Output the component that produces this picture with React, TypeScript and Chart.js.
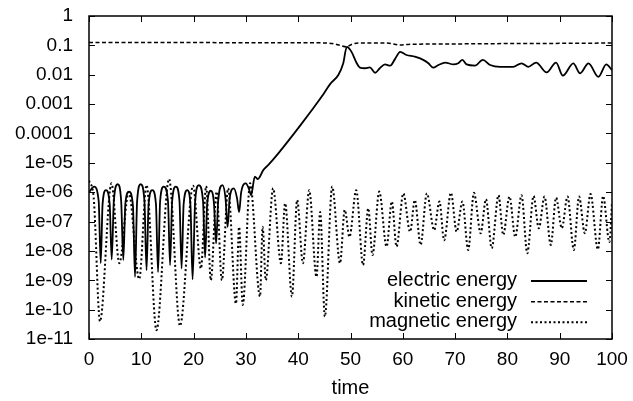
import React, { useEffect, useRef } from 'react';
import Chart from 'chart.js/auto';

const FONT = "'Liberation Sans', Arial, Helvetica, sans-serif";

// electric energy (solid)
const electricTime = [
  0.0, 0.96, 1.85, 2.24, 2.6, 3.25, 3.95, 4.34, 4.75, 5.49, 6.15, 6.56, 6.95, 7.65, 8.4, 8.8,
  9.2, 9.89, 10.6, 11.0, 11.4, 12.1, 12.8, 13.2, 13.6, 14.3, 15.1, 15.5, 15.9, 16.6, 17.3, 17.7,
  18.1, 18.8, 19.4, 19.8, 20.3, 21.0, 21.8, 22.2, 22.6, 23.3, 23.9, 24.3, 24.7, 25.5, 26.1, 26.5,
  26.9, 27.7, 28.3, 28.7, 29.1, 30.0, 30.6, 31.0, 31.7, 32.3, 32.7, 33.3, 34.3, 36.2, 40.7, 44.5,
  46.1, 47.7, 48.6, 49.3, 50.2, 51.2, 51.8, 52.8, 53.7, 54.7, 55.6, 56.6, 57.6, 58.5, 59.5, 60.7,
  62.3, 63.9, 64.9, 65.8, 66.8, 68.1, 69.7, 70.6, 71.4, 72.2, 73.8, 75.3, 76.7, 78.6, 81.1, 82.7,
  84.0, 85.5, 87.5, 89.3, 90.6, 92.6, 93.9, 95.5, 97.4, 98.9, 100,
];
const electricEnergy = [
  1.0e-6, 1.55e-6, 5.0e-7, 3.8e-9, 4.0e-7, 1.17e-6, 4.0e-7, 5.1e-9, 5.0e-7, 1.86e-6, 5.0e-7, 4.9e-9, 4.0e-7, 1.05e-6, 3.5e-7, 1.3e-9,
  5.0e-7, 1.86e-6, 5.0e-7, 2.2e-9, 4.0e-7, 1.17e-6, 4.0e-7, 1.9e-9, 5.0e-7, 1.55e-6, 5.0e-7, 3.3e-9, 5.0e-7, 1.55e-6, 5.0e-7, 2.5e-9,
  4.0e-7, 1.17e-6, 3.5e-7, 1.07e-9, 5.0e-7, 1.74e-6, 5.0e-7, 6.0e-9, 4.0e-7, 1.12e-6, 4.0e-7, 1.8e-8, 5.0e-7, 1.74e-6, 6.3e-7, 6.6e-8,
  6.3e-7, 1.35e-6, 6.3e-7, 2.1e-7, 1.0e-6, 2.0e-6, 1.26e-6, 7.9e-7, 3.4e-6, 2.8e-6, 3.4e-6, 5.6e-6, 8.5e-6, 2.1e-5, 2.2e-4, 1.8e-3,
  4.8e-3, 1.0e-2, 2.4e-2, 8.9e-2, 6.0e-2, 2.45e-2, 1.74e-2, 1.66e-2, 1.78e-2, 1.17e-2, 1.66e-2, 2.24e-2, 2.04e-2, 3.4e-2, 6.0e-2, 4.7e-2,
  4.1e-2, 3.2e-2, 2.45e-2, 1.74e-2, 2.14e-2, 2.6e-2, 2.24e-2, 2.45e-2, 3.2e-2, 2.24e-2, 2.04e-2, 3.2e-2, 2.14e-2, 1.86e-2, 1.86e-2, 2.45e-2,
  1.86e-2, 2.6e-2, 1.2e-2, 2.6e-2, 9.3e-3, 2.45e-2, 1.12e-2, 2.45e-2, 8.5e-3, 2.24e-2, 1.45e-2,
];

// kinetic energy (dashed)
const kineticTime = [0, 20, 44, 46.5, 48, 49.2, 50.3, 51.5, 57, 59.5, 61, 70, 80, 90, 100];
const kineticEnergy = [0.125, 0.124, 0.122, 0.115, 0.1, 0.089, 0.11, 0.12, 0.12, 0.102, 0.108, 0.112, 0.115, 0.117, 0.12];

// magnetic energy (dotted)
const magneticTime = [
  0, 0.9, 2.1, 4.3, 5.8, 7.6, 9.6, 11.0, 12.9, 15.3, 17.4, 19.9, 21.4, 22.4, 23.3, 24.4,
  25.4, 26.6, 28.1, 28.7, 29.4, 30.8, 32.7, 33.2, 33.8, 35.2, 36.7, 37.5, 38.8, 39.8, 40.9, 42.1,
  43.5, 44.2, 45.1, 46.5, 48.0, 48.9, 49.8, 51.1, 52.4, 53.4, 54.2, 55.5, 56.9, 57.9, 58.8, 60.1,
  61.4, 62.3, 63.4, 64.6, 66.0, 67.0, 67.9, 69.2, 70.3, 71.4, 72.5, 73.6, 74.9, 75.9, 77.0, 78.3,
  79.2, 80.4, 81.5, 82.7, 83.8, 85.0, 86.0, 87.1, 88.3, 89.3, 90.4, 91.5, 92.7, 93.7, 94.8, 95.9,
  97.3, 98.3, 99.5, 100,
];
const magneticEnergy = [
  2.5e-6, 6.3e-7, 4.0e-11, 2.0e-6, 3.8e-9, 1.0e-6, 1.1e-9, 1.74e-6, 2.0e-11, 2.8e-6, 2.8e-11, 1.66e-6, 2.5e-9, 1.6e-6, 1.0e-9, 1.05e-6,
  1.0e-9, 1.35e-6, 1.6e-10, 6.6e-8, 1.45e-10, 2.0e-6, 2.8e-10, 6.6e-8, 1.0e-9, 1.35e-6, 3.8e-9, 4.2e-7, 2.8e-10, 5.4e-7, 3.8e-9, 1.17e-6,
  1.3e-9, 2.1e-7, 5.8e-11, 1.55e-6, 3.8e-9, 2.5e-7, 3.0e-8, 1.17e-6, 3.3e-9, 2.8e-7, 7.2e-9, 1.05e-6, 1.4e-8, 4.8e-7, 1.4e-8, 9.1e-7,
  4.5e-8, 5.4e-7, 1.6e-8, 9.1e-7, 5.1e-8, 4.8e-7, 2.3e-8, 9.5e-7, 4.5e-8, 4.8e-7, 1.07e-8, 9.5e-7, 4.0e-8, 5.8e-7, 1.23e-8, 7.9e-7,
  3.5e-8, 7.1e-7, 3.0e-8, 7.9e-7, 8.3e-9, 7.4e-7, 5.9e-8, 7.1e-7, 1.6e-8, 6.5e-7, 5.9e-8, 7.1e-7, 1.07e-8, 7.1e-7, 4.0e-8, 8.7e-7,
  1.12e-8, 7.4e-7, 2.0e-8, 4.2e-7,
];

const xTickValues = [0, 10, 20, 30, 40, 50, 60, 70, 80, 90, 100];
const yTickValues = [1e-11, 1e-10, 1e-9, 1e-8, 1e-7, 1e-6, 1e-5, 1e-4, 1e-3, 1e-2, 1e-1, 1];
const yTickLabels = ['1e-11', '1e-10', '1e-09', '1e-08', '1e-07', '1e-06', '1e-05', '0.0001', '0.001', '0.01', '0.1', '1'];

const seriesLabels = ['electric energy', 'kinetic energy', 'magnetic energy'];
const seriesDashes = [[], [4, 2.5], [2, 2.5]];

function toPoints(xs: number[], ys: number[]) {
  return xs.map((x, i) => ({ x, y: ys[i] }));
}

// gnuplot style box: border, inward mirrored ticks, key at lower right
const framePlugin = {
  id: 'gnuplotFrame',
  afterDraw(chart: any) {
    const { ctx, chartArea } = chart;
    const { left, right, top, bottom } = chartArea;
    const xs = chart.scales.x;
    const ys = chart.scales.y;
    ctx.save();
    ctx.strokeStyle = '#000';
    ctx.setLineDash([]);
    ctx.lineWidth = 1;
    ctx.beginPath();
    xTickValues.forEach((v) => {
      const px = Math.round(xs.getPixelForValue(v)) + 0.5;
      ctx.moveTo(px, bottom);
      ctx.lineTo(px, bottom - 6);
      ctx.moveTo(px, top);
      ctx.lineTo(px, top + 6);
    });
    yTickValues.forEach((v) => {
      const py = Math.round(ys.getPixelForValue(v)) + 0.5;
      ctx.moveTo(left, py);
      ctx.lineTo(left + 6, py);
      ctx.moveTo(right, py);
      ctx.lineTo(right - 6, py);
    });
    ctx.stroke();
    ctx.lineWidth = 1.5;
    ctx.strokeRect(left, top, right - left, bottom - top);

    // key
    ctx.font = `20px ${FONT}`;
    ctx.fillStyle = '#000';
    ctx.textAlign = 'right';
    ctx.textBaseline = 'alphabetic';
    const baselines = [286, 306.7, 327.3];
    chart.data.datasets.forEach((ds: any, i: number) => {
      ctx.fillText(seriesLabels[i], 517, baselines[i]);
      ctx.beginPath();
      ctx.lineWidth = ds.borderWidth;
      ctx.setLineDash(seriesDashes[i]);
      ctx.moveTo(531, baselines[i] - 5);
      ctx.lineTo(587, baselines[i] - 5);
      ctx.stroke();
    });
    ctx.restore();
  },
};

function App() {
  const chartRef = useRef<HTMLCanvasElement>(null);

  useEffect(() => {
    let myChart: any = null;
    if (chartRef.current) {
      const ctx = chartRef.current.getContext('2d');
      if (ctx) {
        myChart = new Chart(ctx, {
          type: 'line',
          data: {
            datasets: [
              {
                label: seriesLabels[0],
                data: toPoints(electricTime, electricEnergy),
                borderColor: '#000',
                borderWidth: 1.8,
                borderDash: seriesDashes[0],
                pointRadius: 0,
                cubicInterpolationMode: 'monotone',
              },
              {
                label: seriesLabels[1],
                data: toPoints(kineticTime, kineticEnergy),
                borderColor: '#000',
                borderWidth: 1.5,
                borderDash: seriesDashes[1],
                pointRadius: 0,
                cubicInterpolationMode: 'monotone',
              },
              {
                label: seriesLabels[2],
                data: toPoints(magneticTime, magneticEnergy),
                borderColor: '#000',
                borderWidth: 2,
                borderDash: seriesDashes[2],
                pointRadius: 0,
                cubicInterpolationMode: 'monotone',
              },
            ],
          },
          options: {
            animation: false,
            responsive: false,
            devicePixelRatio: 1,
            layout: { padding: { top: 16, right: 21, left: 0, bottom: 0 } },
            plugins: {
              legend: { display: false },
              tooltip: { enabled: false },
            },
            scales: {
              x: {
                type: 'linear',
                min: 0,
                max: 100,
                grid: { display: false, drawTicks: false },
                border: { display: false },
                afterBuildTicks: (scale: any) => {
                  scale.ticks = xTickValues.map((value) => ({ value }));
                },
                afterFit: (scale: any) => {
                  scale.height = 62;
                  scale.paddingLeft = 0;
                  scale.paddingRight = 0;
                },
                ticks: {
                  autoSkip: false,
                  maxRotation: 0,
                  padding: 9,
                  color: '#000',
                  font: { family: FONT, size: 19 },
                  callback: (value: any) => String(value),
                },
                title: {
                  display: true,
                  text: 'time',
                  color: '#000',
                  font: { family: FONT, size: 20 },
                  padding: { top: 0, bottom: 1 },
                },
              },
              y: {
                type: 'logarithmic',
                min: 1e-11,
                max: 1,
                grid: { display: false, drawTicks: false },
                border: { display: false },
                afterBuildTicks: (scale: any) => {
                  scale.ticks = yTickValues.map((value) => ({ value }));
                },
                afterFit: (scale: any) => {
                  scale.width = 89;
                  scale.paddingTop = 0;
                  scale.paddingBottom = 0;
                },
                ticks: {
                  autoSkip: false,
                  padding: 16,
                  color: '#000',
                  font: { family: FONT, size: 19 },
                  callback: (_value: any, index: number) => yTickLabels[index],
                },
              },
            },
          },
          plugins: [framePlugin],
        });
      }
    }

    return () => {
      if (myChart) myChart.destroy();
    };
  }, []);

  return (
    <div style={{ position: 'absolute', left: 0, top: 0, width: 633, height: 401, background: '#fff' }}>
      <canvas ref={chartRef} width={633} height={401} style={{ display: 'block' }} />
    </div>
  );
}

export default App;
